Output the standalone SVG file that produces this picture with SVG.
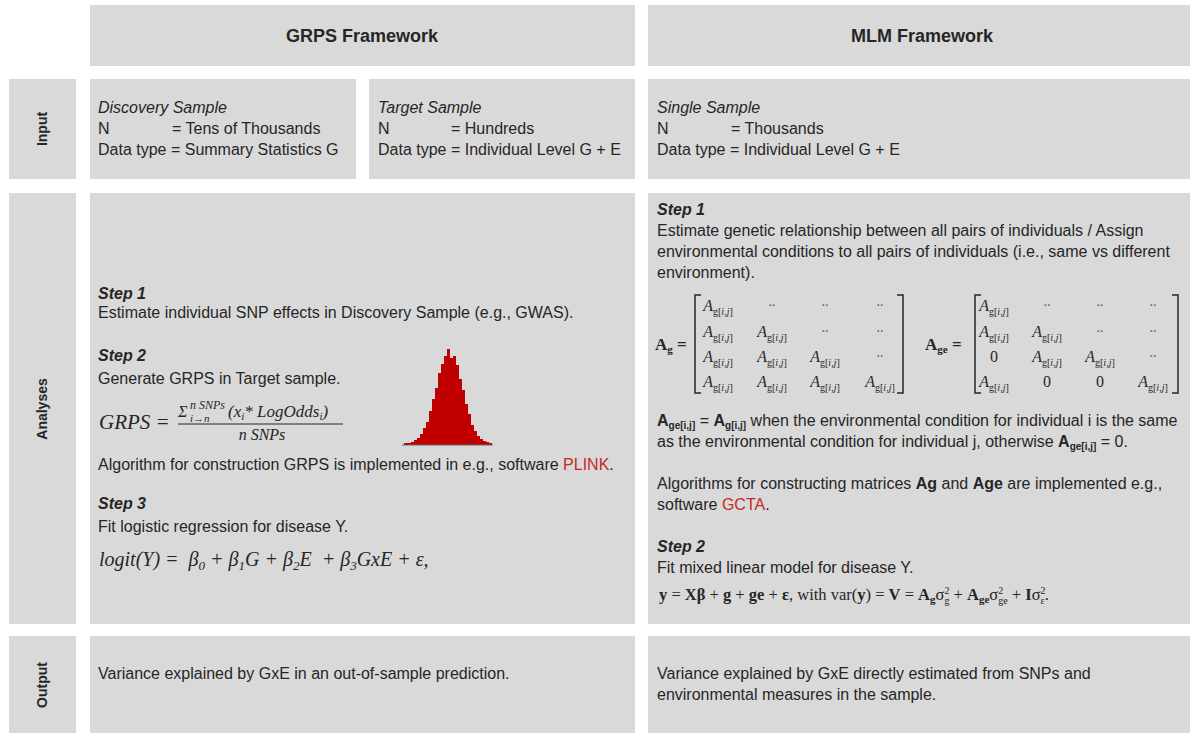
<svg xmlns="http://www.w3.org/2000/svg" width="1192" height="733" viewBox="0 0 1192 733">
<style>
.box{fill:#d9d9d9}
.t{font-family:"Liberation Sans",Arial,sans-serif;font-size:16px;fill:#262626}
.hd{font-family:"Liberation Sans",Arial,sans-serif;font-size:18px;font-weight:bold;fill:#262626;text-anchor:middle}
.lab{font-family:"Liberation Sans",Arial,sans-serif;font-size:14px;font-weight:bold;fill:#262626;text-anchor:middle}
.it{font-style:italic}
.b{font-weight:bold}
.bi{font-weight:bold;font-style:italic}
.red{fill:#c62828}
.m{font-family:"Liberation Serif","Times New Roman",serif;font-size:16px;fill:#262626;text-anchor:middle}
.sub{font-size:10px}
.dots{font-family:"Liberation Serif","Times New Roman",serif;font-size:14px;fill:#555;text-anchor:middle}
.mth{font-family:"Liberation Serif","Times New Roman",serif;fill:#262626}
.br{fill:none;stroke:#262626;stroke-width:1.5}
</style>
<rect width="1192" height="733" fill="#ffffff"/>

<g id="header-grps"><rect class="box" x="90" y="5" width="545" height="61"/><text class="hd" x="362" y="42">GRPS Framework</text></g>
<g id="header-mlm"><rect class="box" x="648" y="5" width="542" height="61"/><text class="hd" x="922" y="42">MLM Framework</text></g>

<g id="label-input"><rect class="box" x="9" y="79" width="67" height="100"/><text class="lab" transform="translate(47,129) rotate(-90)">Input</text></g>
<g id="label-analyses"><rect class="box" x="9" y="193" width="67" height="431"/><text class="lab" transform="translate(47,409) rotate(-90)">Analyses</text></g>
<g id="label-output"><rect class="box" x="9" y="636" width="67" height="97"/><text class="lab" transform="translate(47,685) rotate(-90)">Output</text></g>

<g id="input-discovery"><rect class="box" x="90" y="79" width="266" height="100"/>
<text class="t it" x="98" y="113">Discovery Sample</text>
<text class="t" x="98" y="134">N</text><text class="t" x="172" y="134">= Tens of Thousands</text>
<text class="t" x="98" y="155">Data type = Summary Statistics G</text></g>
<g id="input-target"><rect class="box" x="369" y="79" width="266" height="100"/>
<text class="t it" x="378" y="113">Target Sample</text>
<text class="t" x="378" y="134">N</text><text class="t" x="451" y="134">= Hundreds</text>
<text class="t" x="378" y="155">Data type = Individual Level G + E</text></g>
<g id="input-mlm"><rect class="box" x="648" y="79" width="542" height="100"/>
<text class="t it" x="657" y="113">Single Sample</text>
<text class="t" x="657" y="134">N</text><text class="t" x="731" y="134">= Thousands</text>
<text class="t" x="657" y="155">Data type = Individual Level G + E</text></g>

<g id="analyses-grps"><rect class="box" x="90" y="193" width="545" height="431"/>
<text class="t bi" x="98" y="299">Step 1</text>
<text class="t" x="98" y="318">Estimate individual SNP effects in Discovery Sample (e.g., GWAS).</text>
<text class="t bi" x="98" y="361">Step 2</text>
<text class="t" x="98" y="384">Generate GRPS in Target sample.</text>
<text class="mth it" x="99" y="429" font-size="21">GRPS =</text>
<text class="mth it" x="178" y="417" font-size="16">Σ</text>
<text class="mth it" x="190" y="409" font-size="12">n SNPs</text>
<text class="mth it" x="190" y="422" font-size="11">i→n</text>
<text class="mth it" x="228" y="417" font-size="17">(x<tspan font-size="11" dy="3">i</tspan><tspan dy="-3">* LogOdds</tspan><tspan font-size="11" dy="3">i</tspan><tspan dy="-3">)</tspan></text>
<line x1="178" y1="424" x2="343" y2="424" stroke="#262626" stroke-width="1"/>
<text class="mth it" x="262" y="440" font-size="16" text-anchor="middle">n  SNPs</text>
<path fill="#c00000" d="M404,445 V443 H408 V443 H411 V442 H414 V440 H417 V438 H420 V434 H423 V428 H426 V422 H429 V411 H432 V399 H435 V388 H438 V373 H441 V364 H444 V356 H447 V349 H450 V358 H453 V356 H456 V365 H459 V379 H462 V390 H465 V404 H468 V414 H471 V425 H474 V431 H477 V436 H480 V439 H483 V441 H486 V442 H489 V443 H492 V445 Z"/>
<line x1="402" y1="445" x2="493" y2="445" stroke="#666" stroke-width="1"/>
<text class="t" x="98" y="470">Algorithm for construction GRPS is implemented in e.g., software <tspan class="red">PLINK</tspan>.</text>
<text class="t bi" x="98" y="509">Step 3</text>
<text class="t" x="98" y="532">Fit logistic regression for disease Y.</text>
<text class="mth it" x="99" y="566" font-size="20" xml:space="preserve">logit(Y) =  β<tspan font-size="13" dy="4">0</tspan><tspan dy="-4"> + β</tspan><tspan font-size="13" dy="4">1</tspan><tspan dy="-4">G + β</tspan><tspan font-size="13" dy="4">2</tspan><tspan dy="-4">E  + β</tspan><tspan font-size="13" dy="4">3</tspan><tspan dy="-4">GxE + ε,</tspan></text>
</g>

<g id="analyses-mlm"><rect class="box" x="648" y="193" width="542" height="431"/>
<text class="t bi" x="657" y="215">Step 1</text>
<text class="t" x="657" y="236">Estimate genetic relationship between all pairs of individuals / Assign</text>
<text class="t" x="657" y="257">environmental conditions to all pairs of individuals (i.e., same vs different</text>
<text class="t" x="657" y="278">environment).</text>

<text class="mth b" x="655" y="350" font-size="17">A<tspan font-size="11" dy="3">g</tspan><tspan dy="-3"> =</tspan></text>
<path class="br" d="M701,295 H695 V393 H701"/>
<path class="br" d="M897,295 H903 V393 H897"/>
<g id="matrix-ag">
<text class="m" x="718" y="311"><tspan class="it">A</tspan><tspan class="sub" dy="4">g[<tspan class="it">i,j</tspan>]</tspan></text>
<text class="dots" x="772" y="306">..</text><text class="dots" x="825" y="306">..</text><text class="dots" x="880" y="306">..</text>
<text class="m" x="718" y="337"><tspan class="it">A</tspan><tspan class="sub" dy="4">g[<tspan class="it">i,j</tspan>]</tspan></text>
<text class="m" x="772" y="337"><tspan class="it">A</tspan><tspan class="sub" dy="4">g[<tspan class="it">i,j</tspan>]</tspan></text>
<text class="dots" x="825" y="332">..</text><text class="dots" x="880" y="332">..</text>
<text class="m" x="718" y="362"><tspan class="it">A</tspan><tspan class="sub" dy="4">g[<tspan class="it">i,j</tspan>]</tspan></text>
<text class="m" x="772" y="362"><tspan class="it">A</tspan><tspan class="sub" dy="4">g[<tspan class="it">i,j</tspan>]</tspan></text>
<text class="m" x="825" y="362"><tspan class="it">A</tspan><tspan class="sub" dy="4">g[<tspan class="it">i,j</tspan>]</tspan></text>
<text class="dots" x="880" y="357">..</text>
<text class="m" x="718" y="387"><tspan class="it">A</tspan><tspan class="sub" dy="4">g[<tspan class="it">i,j</tspan>]</tspan></text>
<text class="m" x="772" y="387"><tspan class="it">A</tspan><tspan class="sub" dy="4">g[<tspan class="it">i,j</tspan>]</tspan></text>
<text class="m" x="825" y="387"><tspan class="it">A</tspan><tspan class="sub" dy="4">g[<tspan class="it">i,j</tspan>]</tspan></text>
<text class="m" x="880" y="387"><tspan class="it">A</tspan><tspan class="sub" dy="4">g[<tspan class="it">i,j</tspan>]</tspan></text>
</g>

<text class="mth b" x="925" y="350" font-size="17">A<tspan font-size="11" dy="3">ge</tspan><tspan dy="-3"> =</tspan></text>
<path class="br" d="M981,295 H975 V393 H981"/>
<path class="br" d="M1172,295 H1178 V393 H1172"/>
<g id="matrix-age">
<text class="m" x="994" y="311"><tspan class="it">A</tspan><tspan class="sub" dy="4">g[<tspan class="it">i,j</tspan>]</tspan></text>
<text class="dots" x="1047" y="306">..</text><text class="dots" x="1100" y="306">..</text><text class="dots" x="1153" y="306">..</text>
<text class="m" x="994" y="337"><tspan class="it">A</tspan><tspan class="sub" dy="4">g[<tspan class="it">i,j</tspan>]</tspan></text>
<text class="m" x="1047" y="337"><tspan class="it">A</tspan><tspan class="sub" dy="4">g[<tspan class="it">i,j</tspan>]</tspan></text>
<text class="dots" x="1100" y="332">..</text><text class="dots" x="1153" y="332">..</text>
<text class="m" x="994" y="362">0</text>
<text class="m" x="1047" y="362"><tspan class="it">A</tspan><tspan class="sub" dy="4">g[<tspan class="it">i,j</tspan>]</tspan></text>
<text class="m" x="1100" y="362"><tspan class="it">A</tspan><tspan class="sub" dy="4">g[<tspan class="it">i,j</tspan>]</tspan></text>
<text class="dots" x="1153" y="357">..</text>
<text class="m" x="994" y="387"><tspan class="it">A</tspan><tspan class="sub" dy="4">g[<tspan class="it">i,j</tspan>]</tspan></text>
<text class="m" x="1047" y="387">0</text>
<text class="m" x="1100" y="387">0</text>
<text class="m" x="1153" y="387"><tspan class="it">A</tspan><tspan class="sub" dy="4">g[<tspan class="it">i,j</tspan>]</tspan></text>
</g>

<text class="t" x="657" y="426"><tspan class="b">A</tspan><tspan class="b" font-size="10" dy="3">ge[i,j]</tspan><tspan dy="-3"> = </tspan><tspan class="b">A</tspan><tspan class="b" font-size="10" dy="3">g[i,j]</tspan><tspan dy="-3"> when the environmental condition for individual i is the same</tspan></text>
<text class="t" x="657" y="447">as the environmental condition for individual j, otherwise <tspan class="b">A</tspan><tspan class="b" font-size="10" dy="3">ge[i,j]</tspan><tspan dy="-3"> = 0.</tspan></text>
<text class="t" x="657" y="489">Algorithms for constructing matrices <tspan class="b">Ag</tspan> and <tspan class="b">Age</tspan> are implemented e.g.,</text>
<text class="t" x="657" y="510">software <tspan class="red">GCTA</tspan>.</text>
<text class="t bi" x="657" y="552">Step 2</text>
<text class="t" x="657" y="573">Fit mixed linear model for disease Y.</text>
<text class="mth" x="659" y="600" font-size="16.5"><tspan class="b">y</tspan> = <tspan class="b">Xβ</tspan> + <tspan class="b">g</tspan> + <tspan class="b">ge</tspan> + <tspan class="b">ε</tspan>, with var(<tspan class="b">y</tspan>) = <tspan class="b">V</tspan> = <tspan class="b">A</tspan><tspan class="b" font-size="11" dy="3">g</tspan><tspan dy="-3">σ</tspan><tspan font-size="10" dy="-6">2</tspan><tspan font-size="10" dx="-5" dy="10">g</tspan><tspan dy="-4"> + </tspan><tspan class="b">A</tspan><tspan class="b" font-size="11" dy="3">ge</tspan><tspan dy="-3">σ</tspan><tspan font-size="10" dy="-6">2</tspan><tspan font-size="10" dx="-5" dy="10">ge</tspan><tspan dy="-4"> + </tspan><tspan class="b">I</tspan>σ<tspan font-size="10" dy="-6">2</tspan><tspan font-size="10" dx="-5" dy="10">ε</tspan><tspan dy="-4">.</tspan></text>
</g>

<g id="output-grps"><rect class="box" x="90" y="636" width="545" height="97"/>
<text class="t" x="98" y="679">Variance explained by GxE in an out-of-sample prediction.</text></g>
<g id="output-mlm"><rect class="box" x="648" y="636" width="542" height="97"/>
<text class="t" x="657" y="679">Variance explained by GxE directly estimated from SNPs and</text>
<text class="t" x="657" y="700">environmental measures in the sample.</text></g>
</svg>
